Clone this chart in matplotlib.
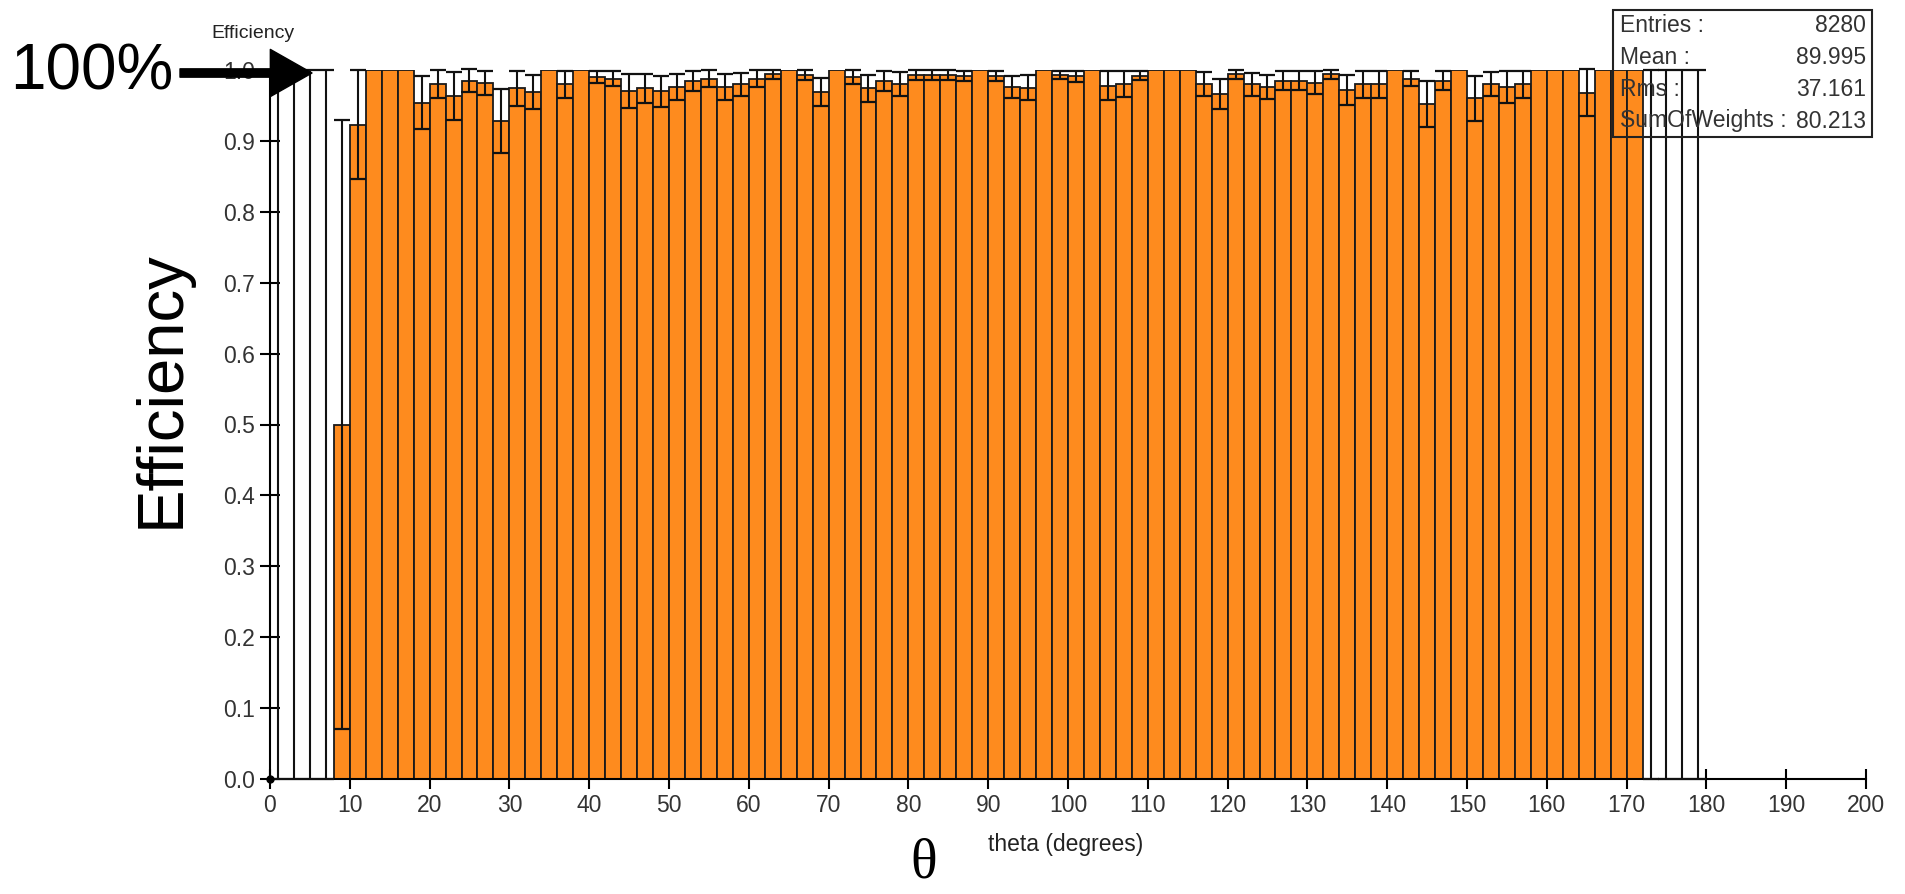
import numpy as np
import matplotlib.pyplot as plt

# theta bins (left edges, 2 degree wide) and efficiency per bin
bin_width = 2.0
edges = np.arange(0, 180, 2)

eff_filled = [0.50, 0.923, 1.0, 1.0, 1.0, 0.954, 0.980, 0.963, 0.985, 0.982,
              0.928, 0.974, 0.969, 1.0, 0.980, 1.0, 0.990, 0.988, 0.970, 0.974,
              0.970, 0.976, 0.985, 0.988, 0.976, 0.980, 0.988, 0.994, 1.0, 0.993,
              0.969, 1.0, 0.990, 0.974, 0.985, 0.980, 0.993, 0.993, 0.993, 0.992,
              1.0, 0.992, 0.976, 0.975, 1.0, 0.993, 0.991, 1.0, 0.978, 0.980,
              0.992, 1.0, 1.0, 1.0, 0.980, 0.966, 0.994, 0.980, 0.976, 0.985,
              0.985, 0.982, 0.994, 0.972, 0.980, 0.980, 1.0, 0.988, 0.952, 0.985,
              1.0, 0.960, 0.980, 0.976, 0.980, 1.0, 1.0, 1.0, 0.968, 1.0,
              1.0, 1.0]
err_filled = [0.43, 0.077, 0, 0, 0, 0.037, 0.020, 0.034, 0.016, 0.017,
              0.045, 0.025, 0.024, 0, 0.019, 0, 0.009, 0.011, 0.024, 0.020,
              0.022, 0.018, 0.014, 0.012, 0.018, 0.016, 0.012, 0.006, 0, 0.007,
              0.020, 0, 0.010, 0.019, 0.014, 0.017, 0.007, 0.007, 0.007, 0.007,
              0, 0.007, 0.016, 0.018, 0, 0.006, 0.008, 0, 0.020, 0.018,
              0.006, 0, 0, 0, 0.017, 0.021, 0.006, 0.016, 0.017, 0.013,
              0.013, 0.016, 0.006, 0.021, 0.019, 0.019, 0, 0.011, 0.033, 0.013,
              0, 0.032, 0.017, 0.023, 0.019, 0, 0, 0, 0.033, 0,
              0, 0]
# empty bins at both ends: efficiency 0, error spans 0..1
n_empty_lo = 4
n_empty_hi = 4

eff = np.array([0.0]*n_empty_lo + eff_filled + [0.0]*n_empty_hi)
err = np.array([1.0]*n_empty_lo + err_filled + [1.0]*n_empty_hi)

stats_names = ["Entries :", "Mean :", "Rms :", "SumOfWeights :"]
stats_vals = ["8280", "89.995", "37.161", "80.213"]

W, H = 1906, 894
fig = plt.figure(figsize=(W/100, H/100), dpi=100)
ax = fig.add_axes([270/W, 1-779/H, 1596/W, (779-70)/H])

narrow = ['Liberation Sans Narrow', 'Liberation Sans', 'DejaVu Sans']

ax.bar(edges, eff, width=bin_width, align='edge', color='#FE8B1E',
       edgecolor='#1a1a1a', linewidth=1.3, zorder=2)

centers = edges + bin_width/2
m = err > 0
lo = np.minimum(err, eff)
ax.errorbar(centers[m], eff[m], yerr=[lo[m], err[m]], fmt='none', ecolor='#111111',
            elinewidth=1.5, capsize=6, capthick=1.6, zorder=3, clip_on=False)

ax.plot([0], [0], 'o', color='black', ms=5, clip_on=False, zorder=4)

ax.set_xlim(0, 200)
ax.set_ylim(0, 1.0)
ax.set_xticks(np.arange(0, 201, 10))
ax.set_yticks(np.arange(0, 1.01, 0.1))
ax.set_yticklabels(["%.1f" % v for v in np.arange(0, 1.01, 0.1)])
for s in ['top', 'right']:
    ax.spines[s].set_visible(False)
for s in ['left', 'bottom']:
    ax.spines[s].set_linewidth(1.5)
ax.tick_params(direction='inout', length=14, width=1.5, labelsize=16.5,
               labelcolor='#333333', pad=4)
for lab in ax.get_xticklabels() + ax.get_yticklabels():
    lab.set_family(narrow)

fig.text(1066/W, 1-845/H, "theta (degrees)", ha='center', va='center',
         fontsize=16.5, color='#222222', family=narrow)
fig.text(253/W, 1-34/H, "Efficiency", ha='center', va='center',
         fontsize=14, color='#222222', family=narrow)

# stats box (transparent, drawn over bars)
bx0, bx1, by0, by1 = 1613, 1872, 10, 137
fig.add_artist(plt.Rectangle((bx0/W, 1-by1/H), (bx1-bx0)/W, (by1-by0)/H,
                             transform=fig.transFigure, fill=False,
                             edgecolor='#222222', linewidth=1.5, zorder=10))
for i, (n, v) in enumerate(zip(stats_names, stats_vals)):
    yy = 1 - (25 + 32*i)/H
    fig.text(1620/W, yy, n, ha='left', va='center', fontsize=16.5,
             color='#333333', family=narrow, zorder=11)
    fig.text(1866/W, yy, v, ha='right', va='center', fontsize=16.5,
             color='#333333', family=narrow, zorder=11)

# big annotations
fig.text(162/W, 1-389/H, "Efficiency", rotation=90, ha='center', va='center',
         fontsize=47, family=['Liberation Sans', 'DejaVu Sans'])
fig.text(10/W, 1-73/H, "100%", ha='left', va='center',
         fontsize=46, family=['Liberation Sans', 'DejaVu Sans'])
fig.text(924/W, 1-864/H, "θ", ha='center', va='center',
         fontsize=40, family=['Liberation Serif', 'DejaVu Serif'])
ax.annotate("", xy=(312, H-73), xytext=(180, H-73), xycoords='figure pixels',
            textcoords='figure pixels', annotation_clip=False,
            arrowprops=dict(arrowstyle='simple,head_length=1.5,head_width=1.7,tail_width=0.3',
                            color='black', mutation_scale=20, shrinkA=0, shrinkB=0),
            zorder=12)

fig.savefig("out.png", dpi=100)
